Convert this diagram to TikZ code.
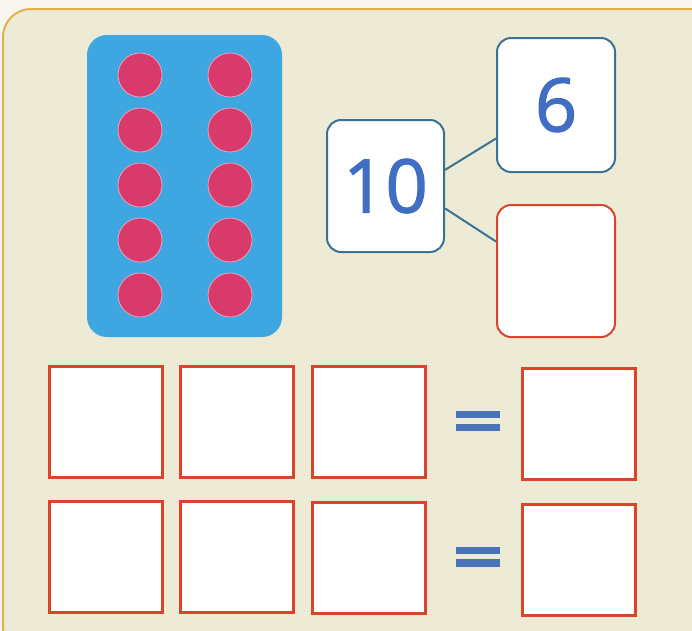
\documentclass[tikz,border=0pt]{standalone}
\usepackage{fontspec}
\setmainfont{Open Sans}
\newfontfamily\numfont[FakeBold=1.6]{Open Sans}
\usetikzlibrary{calc}
\definecolor{paper}{HTML}{EDEBD5}
\definecolor{outside}{HTML}{F8F7EF}
\definecolor{gold}{HTML}{E3B246}
\definecolor{panelblue}{HTML}{3EA6E0}
\definecolor{dotpink}{HTML}{D83B6B}
\definecolor{dotrim}{HTML}{EFA3BC}
\definecolor{boxblue}{HTML}{3B7294}
\definecolor{boxred}{HTML}{D9442B}
\definecolor{numblue}{HTML}{3F6EC2}
\definecolor{eqblue}{HTML}{4A72B8}
\tikzset{
  dot/.style={circle, fill=dotpink, draw=dotrim, line width=0.8pt, minimum size=44pt, inner sep=0pt},
  bondbox/.style={rectangle, rounded corners=14pt, fill=white, line width=2pt, inner sep=0pt, font=\numfont\fontsize{74}{74}\selectfont, text=numblue},
  answerbox/.style={rectangle, fill=white, draw=boxred, line width=3pt, inner sep=0pt, minimum width=113pt, minimum height=111pt},
  bond/.style={draw=boxblue, line width=2pt}
}
\begin{document}
\begin{tikzpicture}[x=1pt,y=-1pt]
\useasboundingbox (0,0) rectangle (692,630);
\fill[outside] (0,0) rectangle (692,630);
% outer panel
\draw[gold, fill=paper, line width=2pt, rounded corners=28pt] (3,9) rectangle (730,670);
% ten-frame card
\fill[panelblue, rounded corners=20pt] (87,35) rectangle (282,337);
\foreach \r/\y in {1/75,2/130,3/185,4/240,5/295}{
  \node[dot] (dl\r) at (140,\y) {};
  \node[dot] (dr\r) at (230,\y) {};
}
% number bond
\node[bondbox, draw=boxblue, minimum width=117pt, minimum height=132pt] (ten) at (385.5,186) {10};
\node[bondbox, draw=boxblue, minimum width=118pt, minimum height=134pt] (six) at (556,105) {6};
\node[bondbox, draw=boxred, minimum width=118pt, minimum height=132pt] (part) at (556,271) {};
\draw[bond] ($(ten.north east)!0.38!(ten.south east)$) -- ($(six.north west)!0.746!(six.south west)$);
\draw[bond] ($(ten.north east)!0.667!(ten.south east)$) -- ($(part.north west)!0.28!(part.south west)$);
% equation rows
\node[answerbox] (a1) at (105.5,421.5) {};
\node[answerbox] (a2) at (236.5,421.5) {};
\node[answerbox] (a3) at (368.5,422) {};
\node[answerbox] (a4) at (578.5,423.5) {};
\fill[eqblue] (456,411) rectangle (500,418);
\fill[eqblue] (456,424) rectangle (500,431);
\node[answerbox] (b1) at (105.5,557) {};
\node[answerbox] (b2) at (236.5,557) {};
\node[answerbox] (b3) at (368.5,557.5) {};
\node[answerbox] (b4) at (578.5,559.5) {};
\fill[eqblue] (456,547) rectangle (500,554);
\fill[eqblue] (456,559) rectangle (500,567);
\end{tikzpicture}
\end{document}
